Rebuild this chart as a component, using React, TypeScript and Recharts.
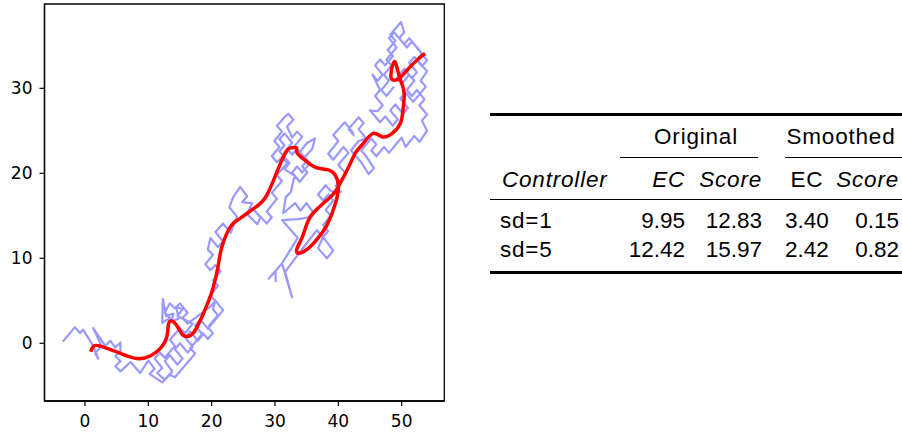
import { LineChart, Line, XAxis, YAxis, ReferenceArea } from "recharts";

// ---- plot data ----
const xTicks = [0, 10, 20, 30, 40, 50];
const yTicks = [0, 10, 20, 30];
const xDomain: [number, number] = [-6.39, 56.73];
const yDomain: [number, number] = [-6.79, 39.92];

// raw random walk, split in stretches from start to end
const walkStart = [
  [-3.5, 0.2], [-1.6, 1.9], [-0.8, 1.2], [-0.3, 1.6], [1.3, -0.3], [2.1, -1.8], [1.6, -1.2], [2.6, -0.3],
  [1.3, 1.8], [3.2, -0.3], [4.0, 0.3], [4.8, -0.5], [5.6, 0.1], [5.6, -0.9], [4.8, -1.5], [5.6, -2.1],
  [4.8, -2.7], [5.6, -3.3], [7.2, -2.2], [8.7, -3.5], [10.0, -2.0], [11.0, -3.0], [10.2, -3.6], [12.2, -4.6],
];
const walkLadder = [
  [13.8, -3.3], [12.6, -2.1], [13.4, -1.4], [14.6, -2.5], [15.4, -1.8], [14.2, -0.7], [15.0, 0.0], [16.2, -1.1],
  [17.0, -0.4], [15.8, 0.7], [16.6, 1.4], [17.8, 0.3], [18.6, 1.0], [17.4, 2.1], [18.2, 2.8], [19.4, 1.7],
  [21.8, 3.9], [20.6, 5.0], [19.8, 4.3],
];
const walkKnot = [
  [16.2, 2.3], [15.4, 3.0], [16.2, 3.6], [15.0, 4.7], [14.2, 4.1], [13.4, 4.7], [12.6, 3.6], [13.4, 3.0],
  [12.2, 2.4], [12.3, 5.2], [12.8, 3.2], [14.0, 3.5], [13.6, 2.6], [14.8, 2.9], [14.4, 4.3], [15.4, 4.0],
  [14.6, 3.2], [17.0, 2.3],
];
const walkLadderBack = [
  [15.8, 1.2], [15.0, 1.8], [13.4, 0.4], [14.2, -0.3], [12.6, -1.7], [11.8, -1.1], [11.0, -1.8], [12.2, -2.9],
  [11.4, -3.5], [12.6, -4.3], [13.4, -3.7], [14.2, -4.0], [16.6, -1.9], [17.4, -1.2], [16.6, -0.6], [18.6, 1.2],
  [19.4, 0.5], [20.2, 1.2], [19.4, 1.9], [21.0, 3.3], [20.2, 4.0],
];
const walkClimb = [
  [20.6, 5.0], [19.8, 5.6], [21.0, 6.8], [20.2, 7.4], [21.4, 8.5], [20.6, 9.2], [19.8, 8.6], [19.0, 9.3],
  [20.2, 10.4], [19.4, 11.0], [19.8, 12.4], [21.0, 11.3], [21.8, 12.0], [20.6, 13.1], [21.8, 14.1], [23.0, 13.0],
  [24.0, 14.9], [22.8, 16.0], [23.4, 17.2], [24.5, 18.4], [25.6, 17.3], [24.8, 16.6], [26.4, 16.5], [25.6, 15.2],
  [27.2, 14.0], [27.7, 14.8], [26.8, 15.6], [28.7, 14.1],
];
const walkMiddle = [
  [29.5, 14.8], [28.7, 15.5], [30.3, 17.0], [29.5, 17.7], [31.1, 19.1], [30.3, 19.8], [31.9, 21.2], [31.1, 21.9],
  [30.3, 21.3], [29.5, 22.0], [30.7, 23.1], [29.9, 23.8], [31.1, 24.9], [30.3, 25.6], [31.5, 26.6], [32.1, 27.0],
  [32.9, 26.3], [31.9, 25.5], [32.7, 24.2], [33.5, 24.9], [34.3, 24.3], [33.1, 23.2], [33.9, 22.5], [35.1, 23.6],
  [36.3, 24.1], [35.9, 22.9], [34.7, 21.9], [35.5, 21.2], [34.3, 20.1], [33.5, 20.8], [32.7, 20.1], [33.9, 19.0],
  [35.1, 20.1], [34.3, 20.8], [35.1, 21.5], [33.5, 22.9], [32.7, 22.2], [31.9, 22.9], [32.7, 23.6], [31.5, 24.7],
  [30.7, 24.0], [31.5, 23.3], [30.7, 22.6], [32.3, 21.2], [31.5, 20.5], [33.1, 19.7],
];
const walkBranch = [
  [32.5, 17.8], [31.7, 17.2], [31.3, 15.3], [33.2, 16.5], [34.0, 15.6], [35.0, 16.5], [36.0, 15.4], [35.2, 14.8],
  [33.6, 14.6], [31.1, 14.5], [33.6, 12.4], [32.1, 10.6], [31.1, 9.4], [29.0, 7.6], [30.1, 8.5], [30.1, 7.3],
  [30.1, 8.5], [31.1, 9.4], [32.7, 5.4], [31.6, 8.4], [34.0, 10.8], [36.6, 13.3],
];
const walkBand = [
  [37.6, 12.5], [39.2, 10.9], [38.2, 10.0], [36.8, 11.2], [37.6, 12.5], [38.4, 13.2], [37.6, 13.9], [38.8, 15.0],
  [38.0, 15.7], [39.2, 16.8], [38.4, 17.5], [37.6, 16.8], [36.8, 17.5], [38.0, 18.6], [38.8, 17.9], [40.4, 17.8],
  [39.6, 18.5], [41.2, 19.9], [40.0, 21.0], [41.6, 22.4], [40.8, 23.1], [39.2, 21.6], [38.4, 22.3], [40.0, 23.8],
  [39.2, 24.5], [41.0, 26.0], [42.2, 24.9], [42.4, 24.5], [41.6, 25.2], [43.2, 26.6], [44.0, 25.9], [43.2, 25.2],
  [44.4, 24.1], [43.2, 23.8], [42.0, 22.7], [43.6, 21.3], [44.8, 19.9], [45.6, 20.6], [44.4, 22.0], [43.6, 22.7],
  [45.2, 24.1], [46.0, 23.4], [45.2, 22.7], [46.0, 22.0], [47.2, 23.1], [48.0, 22.4], [49.2, 23.5], [50.0, 24.2],
  [50.6, 23.1], [52.0, 24.4], [52.8, 23.7], [54.0, 25.0],
];
const walkTop = [
  [53.2, 26.2], [54.0, 26.9], [52.8, 28.0], [53.6, 28.7], [52.4, 29.8], [51.6, 29.1], [50.8, 29.8], [52.0, 30.9],
  [51.2, 31.6], [50.0, 30.5], [49.2, 31.2], [50.4, 32.3], [51.6, 31.2], [52.4, 31.9], [51.2, 33.0], [52.0, 33.7],
  [53.2, 32.6], [54.0, 33.3], [52.8, 34.4], [51.6, 35.5], [50.8, 34.8], [49.6, 35.9], [50.4, 36.6], [49.9, 37.8],
  [48.2, 36.3], [49.0, 35.6], [47.8, 34.5], [48.6, 33.8], [47.4, 32.7], [46.6, 33.4], [45.8, 32.7], [47.0, 31.6],
  [46.2, 30.9], [45.4, 31.6], [46.6, 29.8], [45.8, 29.1], [47.0, 28.0], [46.2, 27.3], [45.0, 27.4], [46.6, 26.0],
  [47.4, 26.7], [48.6, 25.6], [49.4, 26.3], [48.2, 27.4], [49.0, 28.1], [50.2, 27.0], [51.0, 27.7], [49.8, 28.8],
  [50.6, 29.5], [51.8, 28.4], [52.6, 29.1], [53.8, 30.2], [53.0, 30.9], [54.0, 32.0], [52.4, 33.4], [53.2, 34.1],
  [51.2, 35.9], [50.4, 35.2], [48.8, 36.6], [48.0, 35.9], [49.2, 34.8], [47.6, 33.4], [48.4, 32.7], [47.2, 31.6],
  [48.0, 30.9], [46.8, 29.8], [47.6, 29.1], [48.8, 30.2],
];

// smoothed trajectory
const smoothed = [
  [0.9, -1.0], [1.4, -0.3], [2.7, -0.4], [5.6, -1.2], [8.2, -1.8], [10.3, -1.5], [11.9, -0.6], [12.9, 0.7],
  [13.2, 2.3], [13.75, 2.6], [14.5, 2.1], [15.3, 1.1], [16.1, 0.8], [17.2, 1.3], [18.7, 3.5], [20.1, 6.2],
  [21.0, 9.0], [21.6, 11.3], [22.95, 13.7], [24.5, 14.7], [26.9, 16.0], [28.7, 17.4], [30.6, 20.7], [31.9, 22.7],
  [32.7, 23.0], [33.4, 23.0], [33.5, 22.4], [34.8, 21.5], [36.4, 20.7], [38.4, 20.4], [39.5, 19.8], [40.0, 18.6],
  [39.6, 16.6], [38.2, 13.9], [36.8, 12.4], [35.3, 11.2], [33.7, 10.6], [33.5, 11.2], [34.3, 12.5], [35.3, 14.5],
  [36.8, 15.9], [39.0, 17.4], [40.0, 18.4], [41.6, 20.7], [42.7, 22.4], [43.9, 23.5], [45.5, 24.7], [46.9, 24.3],
  [48.5, 24.7], [49.8, 25.9], [50.2, 27.4], [50.4, 29.4], [49.9, 30.8], [49.3, 32.3], [48.8, 33.1], [48.3, 31.6],
  [48.6, 31.0], [49.5, 31.1], [50.8, 32.1], [52.4, 33.3], [53.7, 34.1],
];

// ---- table data ----
const groupHeaders = ["Original", "Smoothed"];
const columnHeaders = ["Controller", "EC", "Score", "EC", "Score"];
const columnItalic = [true, true, true, false, true];
const controllers = ["sd=1", "sd=5"];
const ecOriginal = ["9.95", "12.42"];
const scoreOriginal = ["12.83", "15.97"];
const ecSmoothed = ["3.40", "2.42"];
const scoreSmoothed = ["0.15", "0.82"];

const toRows = (pts: number[][]) => pts.map(([x, y]) => ({ x, y }));
const walkData = toRows([
  ...walkStart, ...walkLadder, ...walkKnot, ...walkLadderBack, ...walkClimb,
  ...walkMiddle, ...walkBranch, ...walkBand, ...walkTop,
]);
const smoothData = toRows(smoothed);

// no serif face is installed here, so the LaTeX table falls back to Liberation Sans
const TABLE_FONT = "'Liberation Sans', Arial, sans-serif";
const tickStyle = { fontSize: 17, fill: "#000", fontFamily: "'DejaVu Sans', sans-serif" };

// column anchors: [kind, x]
const cols: ["left" | "right" | "center", number][] = [
  ["left", 500], ["right", 685], ["right", 762], ["center", 807], ["right", 899],
];

function Cell({ text, kind, x, top, italic, word }: {
  text: string; kind: "left" | "right" | "center"; x: number; top: number; italic?: boolean; word?: boolean;
}) {
  const base: React.CSSProperties = {
    position: "absolute",
    top,
    fontFamily: TABLE_FONT,
    fontSize: 22.5,
    lineHeight: "22.5px",
    letterSpacing: word ? 0.8 : 0,
    fontStyle: italic ? "italic" : "normal",
    whiteSpace: "nowrap",
    color: "#000",
  };
  if (kind === "left") return <div style={{ ...base, left: x }}>{text}</div>;
  if (kind === "right") return <div style={{ ...base, right: 902 - x, textAlign: "right" }}>{text}</div>;
  return <div style={{ ...base, left: x - 60, width: 120, textAlign: "center" }}>{text}</div>;
}

function Rule({ x1, x2, y, h }: { x1: number; x2: number; y: number; h: number }) {
  return <div style={{ position: "absolute", left: x1, width: x2 - x1, top: y, height: h, background: "#000" }} />;
}

export default function App() {
  const rows = controllers.map((c, i) => [c, ecOriginal[i], scoreOriginal[i], ecSmoothed[i], scoreSmoothed[i]]);
  const rowTops = [210, 239];
  return (
    <div style={{ position: "absolute", left: 0, top: 0, width: 902, height: 434, overflow: "hidden", background: "#fff" }}>
      <LineChart
        width={460}
        height={434}
        margin={{ top: 4, right: 15.7, bottom: 3, left: 4.5 }}
        style={{ position: "absolute", left: 0, top: 0 }}
      >
        <XAxis
          type="number"
          dataKey="x"
          domain={xDomain}
          ticks={xTicks}
          allowDataOverflow
          height={30}
          tick={tickStyle}
          tickSize={5}
          tickMargin={9}
          tickLine={{ stroke: "#000", strokeWidth: 1.2 }}
          axisLine={{ stroke: "#000", strokeWidth: 1.3 }}
        />
        <YAxis
          type="number"
          dataKey="y"
          domain={yDomain}
          ticks={yTicks}
          allowDataOverflow
          width={40}
          tick={tickStyle}
          tickSize={5}
          tickMargin={7}
          tickLine={{ stroke: "#000", strokeWidth: 1.2 }}
          axisLine={{ stroke: "#000", strokeWidth: 1.3 }}
        />
        <Line
          data={walkData}
          dataKey="y"
          type="linear"
          stroke="#9999ff"
          strokeWidth={2.2}
          strokeLinejoin="round"
          dot={false}
          activeDot={false}
          isAnimationActive={false}
        />
        <Line
          data={smoothData}
          dataKey="y"
          type="natural"
          stroke="#ff0000"
          strokeWidth={3.5}
          dot={false}
          activeDot={false}
          isAnimationActive={false}
        />
        <ReferenceArea
          x1={xDomain[0]}
          x2={xDomain[1]}
          y1={yDomain[0]}
          y2={yDomain[1]}
          fill="none"
          stroke="#000"
          strokeWidth={1.3}
          ifOverflow="visible"
        />
      </LineChart>

      {/* booktabs-style table */}
      <Rule x1={490} x2={902} y={113} h={2.5} />
      <Cell text={groupHeaders[0]} kind="center" x={696} top={126} word />
      <Cell text={groupHeaders[1]} kind="center" x={841} top={126} word />
      <Rule x1={620} x2={758} y={156.5} h={1.2} />
      <Rule x1={785} x2={902} y={156.5} h={1.2} />
      {columnHeaders.map((h, j) => (
        <Cell key={"h" + j} text={h} kind={cols[j][0]} x={j === 0 ? 502 : cols[j][1]} top={169} italic={columnItalic[j]} word />
      ))}
      <Rule x1={490} x2={902} y={198.5} h={1.2} />
      {rows.map((r, i) =>
        r.map((v, j) => <Cell key={i + "-" + j} text={v} kind={cols[j][0]} x={cols[j][1]} top={rowTops[i]} word={j === 0} />)
      )}
      <Rule x1={490} x2={902} y={271} h={2.5} />
    </div>
  );
}
